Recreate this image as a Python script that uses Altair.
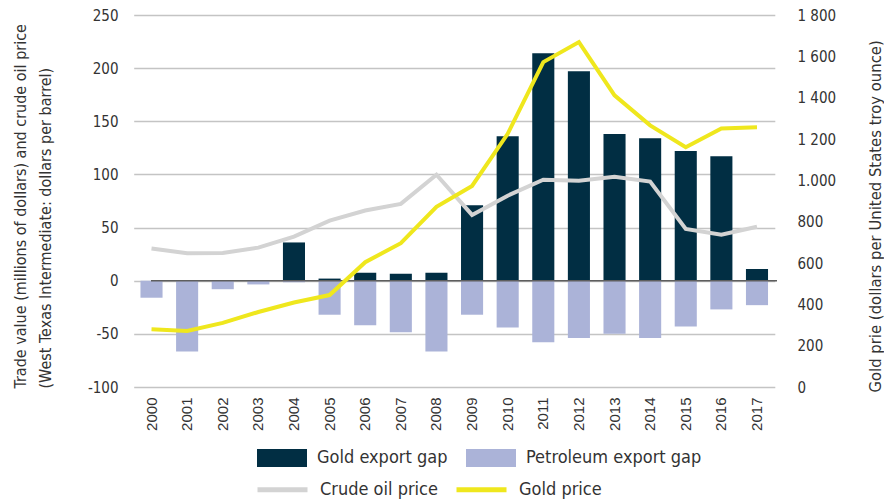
import altair as alt
import pandas as pd

years = ["2000", "2001", "2002", "2003", "2004", "2005", "2006", "2007", "2008",
         "2009", "2010", "2011", "2012", "2013", "2014", "2015", "2016", "2017"]
gold_export_gap = [0, 0, 0, 0, 36, 2, 7.5, 6.5, 7.5, 71, 136, 214, 197, 138, 134, 122, 117, 11]
petroleum_export_gap = [-16, -66.5, -8, -3.5, -1.5, -32, -42, -48.5, -66.5, -32, -44, -58, -54,
                        -50, -54, -43, -27, -23]
crude_oil_price = [30.4, 25.9, 26.1, 31.1, 41.5, 56.6, 66.0, 72.3, 99.7, 61.9, 80.0, 95.0, 94.1,
                   97.9, 93.3, 48.7, 43.3, 50.8]
gold_price = [279, 271, 310, 363, 409, 445, 604, 696, 872, 973, 1225, 1572, 1669, 1411, 1266,
              1160, 1251, 1257]

left_ticks = [-100, -50, 0, 50, 100, 150, 200, 250]
right_ticks = [0, 200, 400, 600, 800, 1000, 1200, 1400, 1600, 1800]

bar_series = ["Gold export gap", "Petroleum export gap"]
bar_colors = ["#012e43", "#abb3d8"]
line_series = ["Crude oil price", "Gold price"]
line_colors = ["#d3d3d3", "#efe71d"]

NARROW = "Liberation Sans Narrow, DejaVu Sans Condensed, Roboto, sans-serif"
REG = "Liberation Sans, Arial, sans-serif"
TXT = "#333333"

bar_df = pd.DataFrame({
    "year": years * 2,
    "series": [bar_series[0]] * len(years) + [bar_series[1]] * len(years),
    "value": gold_export_gap + petroleum_export_gap,
})
line_df = pd.DataFrame({
    "year": years,
    "crude": crude_oil_price,
    "gold": gold_price,
    "crude_name": [line_series[0]] * len(years),
    "gold_name": [line_series[1]] * len(years),
})

x_enc = alt.X(
    "year:O",
    sort=years,
    scale=alt.Scale(range=[-17.3, 623.8], paddingInner=0.38, paddingOuter=0.19),
    axis=alt.Axis(title=None, labelAngle=270, labelFont=REG, labelFontSize=15,
                  labelColor=TXT, labelPadding=10, ticks=False, domain=False),
)

left_scale = alt.Scale(domain=[-100, 250], nice=False, zero=False)
left_axis = alt.Axis(
    values=left_ticks,
    labelExpr="toString(datum.value)",
    title=["Trade value (millions of dollars) and crude oil price",
           "(West Texas Intermediate: dollars per barrel)"],
    titleFont=NARROW, titleFontSize=16, titleFontWeight="normal", titleColor=TXT,
    titleLineHeight=25, titlePadding=34, titleY=373, titleAlign="left",
    labelFont=NARROW, labelFontSize=15, labelColor=TXT, labelPadding=33,
    ticks=False, domain=False, grid=True, gridColor="#c4c4c4", gridWidth=1.3,
)

bars = alt.Chart(bar_df).mark_bar().encode(
    x=x_enc,
    y=alt.Y("value:Q", scale=left_scale, axis=left_axis),
    fill=alt.Fill(
        "series:N",
        scale=alt.Scale(domain=bar_series, range=bar_colors),
        legend=alt.Legend(
            title=None, orient="none", legendX=106, legendY=418, direction="horizontal",
            symbolType="M-1,-0.36H1V0.36H-1Z", symbolSize=2500, symbolStrokeWidth=0,
            labelFont=NARROW, labelFontSize=18, labelColor=TXT, labelOffset=10,
            labelLimit=400, columnPadding=18,
        ),
    ),
)

zero_line = alt.Chart(pd.DataFrame({"zero": [0]})).mark_rule(
    color="#5e5e5e", strokeWidth=1.6
).encode(y=alt.Y("zero:Q", scale=left_scale, axis=left_axis))

crude_line = alt.Chart(line_df).mark_line(strokeWidth=4).encode(
    x=x_enc,
    y=alt.Y("crude:Q", scale=left_scale, axis=left_axis),
    stroke=alt.Stroke(
        "crude_name:N",
        scale=alt.Scale(domain=line_series, range=line_colors),
        legend=alt.Legend(
            title=None, orient="none", legendX=104, legendY=447, direction="horizontal",
            symbolType="stroke", symbolSize=2500, symbolStrokeWidth=5,
            labelFont=NARROW, labelFontSize=18, labelColor=TXT, labelOffset=10,
            labelLimit=400, columnPadding=8,
        ),
    ),
)

gold_line = alt.Chart(line_df).mark_line(strokeWidth=4).encode(
    x=x_enc,
    y=alt.Y(
        "gold:Q",
        scale=alt.Scale(domain=[0, 1800], nice=False, zero=False),
        axis=alt.Axis(
            orient="right",
            values=right_ticks,
            labelExpr="datum.value == 1000 ? '1.000' : (datum.value > 1000 ? replace(format(datum.value, ','), ',', ' ') : toString(datum.value))",
            title="Gold prie (dollars per United States troy ounce)",
            titleAngle=270,
            titleY=377,
            titleAlign="left",
            titleFont=NARROW, titleFontSize=16.5, titleFontWeight="normal", titleColor=TXT,
            titlePadding=48,
            labelFont=NARROW, labelFontSize=15, labelColor=TXT, labelPadding=20,
            ticks=False, domain=False, grid=False,
        ),
    ),
    stroke=alt.Stroke(
        "gold_name:N",
        scale=alt.Scale(domain=line_series, range=line_colors),
    ),
)

left_layer = alt.layer(bars, zero_line, crude_line)

chart = alt.layer(left_layer, gold_line).resolve_scale(y="independent").properties(
    width=626,
    height=372,
    autosize=alt.AutoSizeParams(type="none"),
    padding={"left": 143, "top": 7, "right": 107, "bottom": 113},
    background="white",
).configure_view(stroke=None)

chart.save("out.html", embed_options={"renderer": "svg", "actions": False})
